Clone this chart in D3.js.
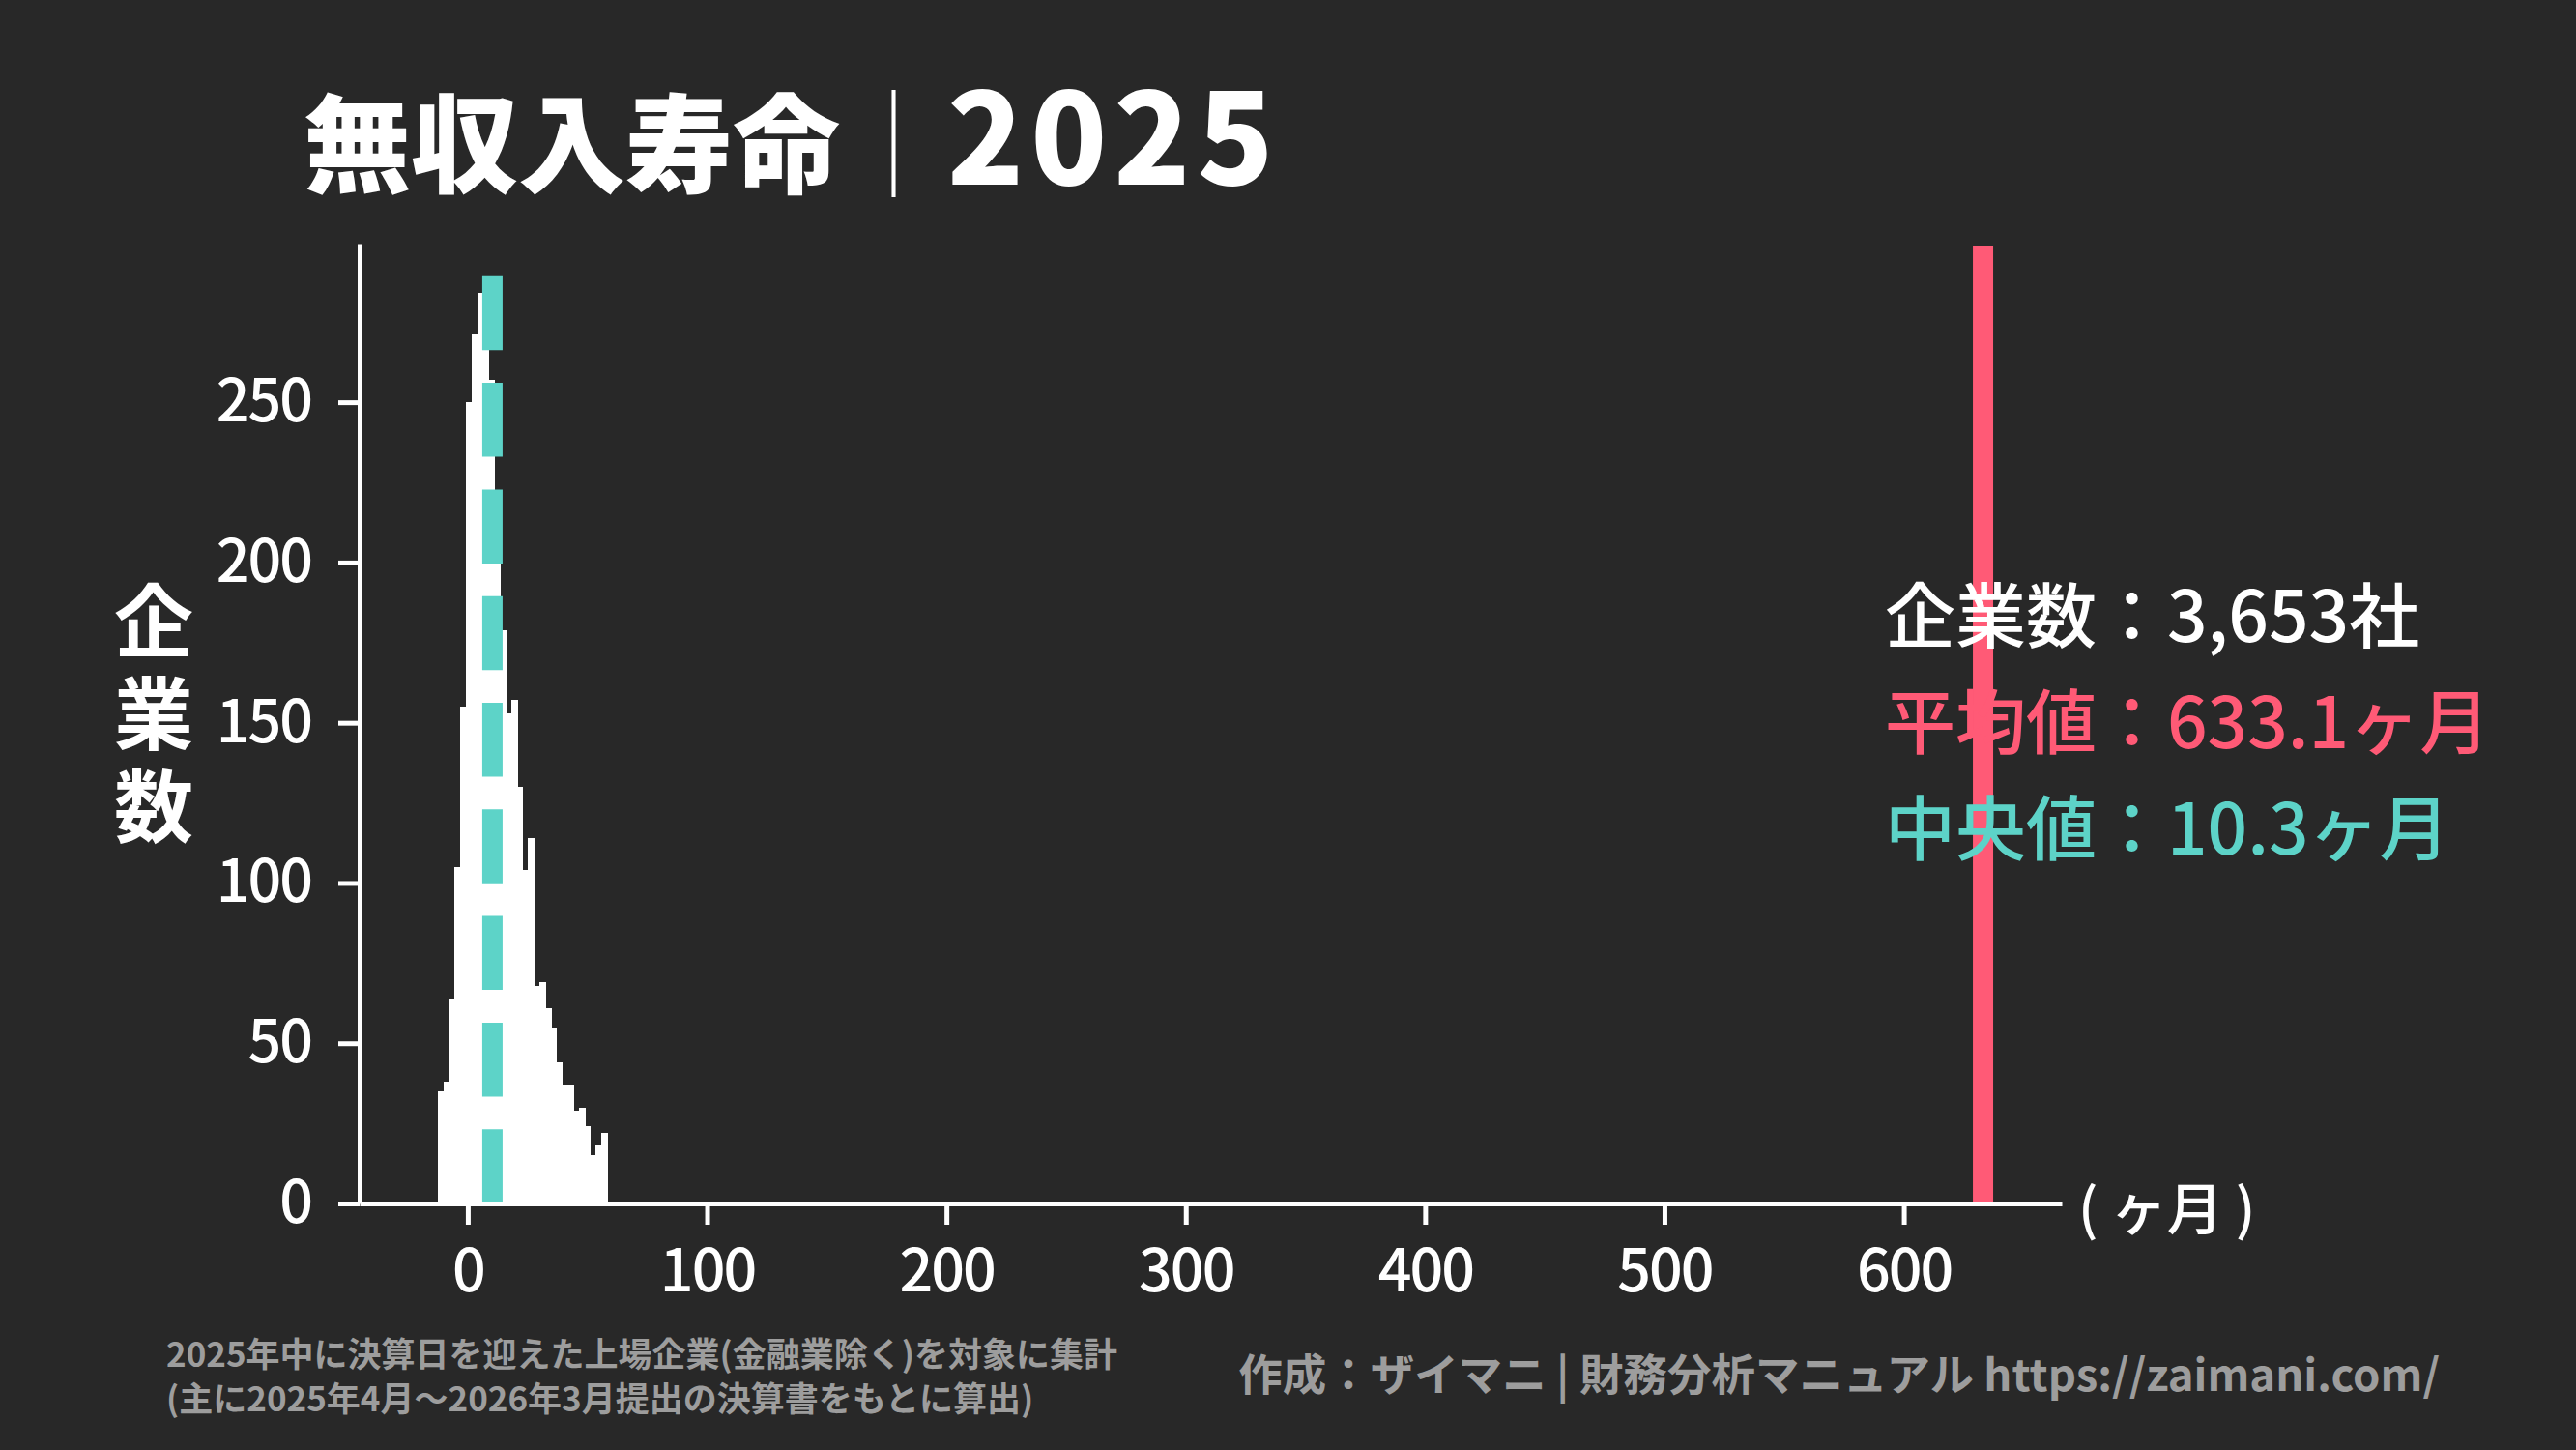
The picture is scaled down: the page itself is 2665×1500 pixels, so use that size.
<!DOCTYPE html>
<html lang="ja">
<head>
<meta charset="UTF-8">
<title>無収入寿命｜2025</title>
<script src="https://d3js.org/d3.v7.min.js"></script>
<style>
  body { margin: 0; background: #282828; }
  svg { display: block; font-family: "Noto Sans CJK JP", "Noto Sans", sans-serif; }
  .axis .domain, .axis .tick line { stroke: #fff; stroke-width: 5; }
  .axis .tick text { fill: #fff; font-size: 61px; font-weight: 500; letter-spacing: -2px; }
</style>
</head>
<body>
<div id="chart"></div>
<script>
// histogram: months a company can survive without income
const binStart = -12.52;   // left edge of first bin (months)
const binWidth = 2.356;    // bin width (months)
const counts = [35, 38, 64, 105, 155, 250, 271, 284, 278, 257,
                211, 179, 153, 157, 130, 104, 114, 68, 69, 61,
                55, 44, 37, 37, 29, 30, 24, 15, 18, 22];

const xTicks = [0, 100, 200, 300, 400, 500, 600];
const yTicks = [0, 50, 100, 150, 200, 250];

const meanValue = 633.1;
const medianValue = 10.3;

const infoLabels = ["企業数", "平均値", "中央値"];
const infoValues = ["3,653社", "633.1ヶ月", "10.3ヶ月"];

const titleMain = "無収入寿命";
const titleYear = "2025";
const yLabel = "企業数";
const xUnit = "( ヶ月 )";
const notes = ["2025年中に決算日を迎えた上場企業(金融業除く)を対象に集計",
               "(主に2025年4月〜2026年3月提出の決算書をもとに算出)"];
const credit = "作成：ザイマニ | 財務分析マニュアル https://zaimani.com/";

const W = 2665, H = 1500;
const plot = {left: 372, right: 2133, top: 252, bottom: 1245};
const teal = "#5dd3c8", red = "#ff5a76", grey = "#9d9d9d";

const svg = d3.select("#chart").append("svg")
    .attr("width", W).attr("height", H);

svg.append("rect").attr("width", W).attr("height", H).attr("fill", "#282828");

const x = d3.scaleLinear().domain([-45.2, 666]).range([plot.left, plot.right]);
const y = d3.scaleLinear().domain([0, 299.5]).range([plot.bottom, plot.top]);

// bars
svg.append("g")
    .attr("shape-rendering", "crispEdges")
    .selectAll("rect")
    .data(counts)
    .join("rect")
    .attr("x", (d, i) => x(binStart + i * binWidth))
    .attr("width", (d, i) => x(binStart + (i + 1) * binWidth) - x(binStart + i * binWidth) + 1)
    .attr("y", d => y(d))
    .attr("height", d => y(0) - y(d))
    .attr("fill", "#fff");

// mean line
svg.append("line")
    .attr("x1", x(meanValue)).attr("x2", x(meanValue))
    .attr("y1", y(0)).attr("y2", y(298.6))
    .attr("stroke", red).attr("stroke-width", 21);

// median line (dashed)
svg.append("line")
    .attr("x1", x(medianValue)).attr("x2", x(medianValue))
    .attr("y1", y(289.3)).attr("y2", y(0))
    .attr("stroke", teal).attr("stroke-width", 21)
    .attr("stroke-dasharray", "76.5 33.8");

// axes
svg.append("g")
    .attr("class", "axis")
    .attr("transform", `translate(0,${plot.bottom})`)
    .call(d3.axisBottom(x).tickValues(xTicks).tickSize(22).tickSizeOuter(0).tickPadding(26));

svg.append("g")
    .attr("class", "axis")
    .attr("transform", `translate(${plot.left},0)`)
    .call(d3.axisLeft(y).tickValues(yTicks).tickSize(22).tickSizeOuter(0).tickPadding(28));

svg.selectAll(".axis").attr("font-family", null).attr("font-size", null);

// x unit
svg.append("text")
    .attr("x", 2150).attr("y", 1247)
    .attr("dominant-baseline", "central")
    .attr("fill", "#fff").attr("font-size", 58).attr("font-weight", 500)
    .attr("xml:space", "preserve")
    .text(xUnit);

// y label, written vertically
svg.append("text")
    .attr("x", 159).attr("y", 601)
    .attr("writing-mode", "vertical-rl")
    .attr("letter-spacing", 14)
    .attr("fill", "#fff").attr("font-size", 82).attr("font-weight", 700)
    .text(yLabel);

// title
const title = svg.append("text")
    .attr("x", 314).attr("y", 191)
    .attr("fill", "#fff").attr("font-size", 111).attr("font-weight", 900);
title.append("tspan").text(titleMain);
title.append("tspan").attr("font-weight", 100).text("｜");
title.append("tspan").attr("font-size", 130).attr("letter-spacing", 7).text(titleYear);

// info panel
const infoColors = ["#fff", red, teal];
svg.append("g").selectAll("text")
    .data(infoLabels)
    .join("text")
    .attr("x", 1950)
    .attr("y", (d, i) => 664 + i * 110)
    .attr("fill", (d, i) => infoColors[i])
    .attr("font-size", 73).attr("font-weight", 500)
    .text((d, i) => d + "：" + infoValues[i]);

// footnotes
svg.append("g").selectAll("text")
    .data(notes)
    .join("text")
    .attr("x", 172)
    .attr("y", (d, i) => 1414 + i * 46)
    .attr("fill", grey).attr("font-size", 35).attr("font-weight", 700)
    .text(d => d);

svg.append("text")
    .attr("x", 2524).attr("y", 1439)
    .attr("text-anchor", "end")
    .attr("fill", grey).attr("font-size", 45.5).attr("font-weight", 700)
    .text(credit);
</script>
</body>
</html>
